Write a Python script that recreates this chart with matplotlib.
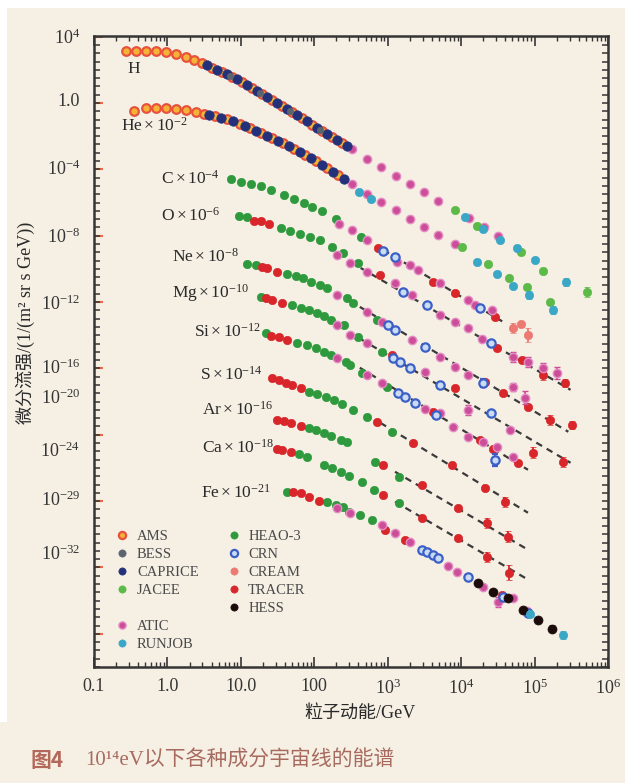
import numpy as np
import matplotlib
matplotlib.use("Agg")
import matplotlib.pyplot as plt
from matplotlib.lines import Line2D
from matplotlib.patches import Rectangle
from matplotlib.ticker import FixedLocator, NullLocator, LogLocator, NullFormatter

plt.rcParams['font.family'] = ['Liberation Serif', 'Noto Sans CJK SC', 'DejaVu Sans']
plt.rcParams['mathtext.fontset'] = 'stix'

# values are log10(E / GeV), log10(flux); a third entry = error bar half-size in decades
H_DATA = {
    'CAPRICE': [(0.54, 2.29), (0.68, 1.99), (0.81, 1.72), (0.95, 1.42), (1.08, 1.08), (1.22, 0.72),
                (1.36, 0.36), (1.49, 0.00), (1.63, -0.36), (1.77, -0.72), (1.90, -1.11), (2.04, -1.51),
                (2.17, -1.87), (2.31, -2.23), (2.45, -2.59)],
    'AMS': [(-0.56, 3.13), (-0.43, 3.13), (-0.29, 3.13), (-0.16, 3.13), (-0.02, 3.07), (0.12, 2.95),
            (0.25, 2.77), (0.36, 2.59), (0.47, 2.41), (0.61, 2.11), (0.74, 1.87), (0.88, 1.57),
            (1.02, 1.27), (1.15, 0.90), (1.29, 0.54), (1.43, 0.18), (1.56, -0.18), (1.70, -0.54),
            (1.83, -0.90), (1.97, -1.33), (2.11, -1.69), (2.24, -2.05), (2.38, -2.41)],
    'BESS': [(0.85, 1.63), (1.26, 0.60), (1.67, -0.48), (2.08, -1.63)],
    'ATIC': [(2.52, -2.77), (2.72, -3.37), (2.91, -3.86), (3.11, -4.40), (3.31, -4.88), (3.50, -5.36),
             (3.69, -5.90), (4.11, -6.93), (4.31, -7.47), (4.50, -8.01)],
    'JACEE': [(3.92, -6.45), (4.22, -7.41), (4.82, -8.98), (5.12, -10.12), (5.72, -11.39, 0.3)],
    'RUNJOB': [(4.05, -6.87), (4.30, -7.59), (4.53, -8.25), (4.76, -8.73), (5.01, -9.46), (5.43, -10.78, 0.25)],
}

HE_DATA = {
    'CAPRICE': [(0.57, -0.72), (0.73, -0.90), (0.89, -1.11), (1.06, -1.39), (1.21, -1.66), (1.36, -1.96),
                (1.51, -2.29), (1.66, -2.59), (1.81, -2.95), (1.96, -3.31), (2.11, -3.73), (2.26, -4.13),
                (2.41, -4.58)],
    'AMS': [(-0.45, -0.48, 0.12), (-0.29, -0.30), (-0.16, -0.30), (-0.02, -0.30), (0.12, -0.36), (0.25, -0.42),
            (0.39, -0.54), (0.50, -0.66), (0.65, -0.78), (0.81, -0.96), (0.99, -1.27), (1.13, -1.51),
            (1.28, -1.81), (1.43, -2.11), (1.58, -2.44), (1.73, -2.77), (1.88, -3.13), (2.03, -3.52),
            (2.17, -3.92), (2.32, -4.34)],
    'ATIC': [(2.52, -4.88), (2.72, -5.48), (2.91, -5.96), (3.11, -6.45), (3.31, -6.99), (3.50, -7.47),
             (3.69, -7.95), (3.92, -8.49)],
    'JACEE': [(4.01, -8.67), (4.37, -9.70), (4.65, -10.54), (4.90, -11.08), (5.21, -11.99)],
    'RUNJOB': [(2.61, -5.36), (2.77, -5.78), (4.22, -9.58), (4.49, -10.30), (4.71, -11.02),
               (4.93, -11.57, 0.25), (5.25, -12.47, 0.25)],
}

C_DATA = {
    'HEAO-3': [(0.87, -4.58), (1.00, -4.76), (1.14, -4.88), (1.28, -5.00), (1.41, -5.24), (1.59, -5.54),
               (1.73, -5.78), (1.86, -6.02), (1.97, -6.27), (2.11, -6.51), (2.30, -6.99), (2.64, -8.07)],
    'TRACER': [(2.87, -8.73), (3.61, -10.78), (3.92, -11.45), (4.46, -12.89)],
    'ATIC': [(2.34, -7.29), (2.52, -7.65), (2.72, -8.25), (3.13, -9.58), (3.31, -9.76), (3.41, -10.06),
             (3.71, -10.84), (4.10, -11.87), (4.19, -12.17), (4.42, -12.47)],
    'CRN': [(2.94, -8.92), (3.10, -9.28), (4.26, -12.35)],
    'CREAM': [(4.71, -13.55, 0.3), (4.82, -13.31), (4.91, -13.98, 0.4)],
}
C_FIT = [(2.94, -8.86), (4.57, -13.19)]

O_DATA = {
    'HEAO-3': [(0.98, -6.81), (1.08, -6.87), (1.55, -7.53), (1.67, -7.71), (1.81, -7.89), (1.94, -8.07),
               (2.08, -8.25), (2.24, -8.67), (2.39, -9.04), (2.60, -9.64)],
    'TRACER': [(1.18, -7.11), (1.28, -7.14), (1.38, -7.29), (2.90, -10.36), (4.49, -14.76), (4.83, -15.48),
               (5.12, -16.39, 0.3), (5.42, -16.87, 0.25)],
    'ATIC': [(2.31, -9.16), (2.49, -9.64), (2.72, -10.18), (3.10, -10.84), (3.33, -11.57), (3.71, -12.77),
             (3.92, -13.19), (4.10, -13.55), (4.29, -14.22), (4.71, -15.30, 0.3), (4.91, -15.60, 0.3),
             (5.12, -15.96, 0.3), (5.31, -16.27, 0.35)],
    'CRN': [(3.21, -11.39), (3.54, -12.17), (4.40, -14.46)],
}
O_FIT = [(2.49, -9.58), (5.49, -17.29)]

NE_DATA = {
    'HEAO-3': [(1.08, -9.70), (1.21, -9.76), (1.63, -10.30), (1.75, -10.42), (1.85, -10.54), (1.96, -10.78),
               (2.08, -10.96), (2.17, -11.14), (2.45, -11.75), (2.53, -12.05), (2.86, -13.07)],
    'TRACER': [(1.29, -9.88), (1.36, -9.94), (1.49, -10.18), (4.33, -16.81), (4.57, -17.47),
               (4.91, -18.31), (5.21, -19.10, 0.3), (5.51, -19.40, 0.25)],
    'ATIC': [(2.31, -11.57), (2.72, -12.59), (2.92, -13.19), (3.33, -14.28), (3.71, -15.30), (3.92, -15.90),
             (4.10, -16.39), (4.71, -17.11, 0.25), (4.87, -17.77, 0.4)],
    'CRN': [(3.01, -13.37), (3.10, -13.67), (3.51, -14.70), (4.30, -16.87, 0.25)],
}
NE_FIT = [(2.62, -12.29), (5.46, -19.82)]

MG_DATA = {
    'HEAO-3': [(1.28, -11.69), (1.70, -12.17), (1.82, -12.35), (1.93, -12.47), (2.04, -12.65), (2.13, -12.83),
               (2.23, -13.07), (2.41, -13.37), (2.60, -14.10), (2.92, -15.00)],
    'TRACER': [(1.34, -11.75), (1.43, -11.87), (1.56, -12.05), (3.06, -15.18), (3.92, -17.17),
               (4.98, -21.08, 0.35), (5.39, -21.63, 0.3)],
    'ATIC': [(2.31, -13.37), (2.49, -13.98), (2.72, -14.46), (3.51, -16.20), (4.10, -18.49, 0.3), (4.67, -19.70)],
    'CRN': [(3.07, -15.36), (3.17, -15.60), (3.31, -15.96), (3.71, -16.99), (4.40, -18.67)],
}
MG_FIT = [(2.49, -13.86), (5.49, -21.69)]

SI_DATA = {
    'HEAO-3': [(1.34, -13.86), (1.77, -14.46), (1.90, -14.58), (2.03, -14.76), (2.13, -15.00), (2.23, -15.18),
               (2.43, -15.60), (2.49, -15.78), (2.65, -16.27), (2.99, -17.11)],
    'TRACER': [(1.41, -14.04), (1.52, -14.10), (1.63, -14.28), (3.61, -18.61), (4.26, -20.30),
               (4.44, -20.84), (4.78, -21.69)],
    'ATIC': [(2.31, -15.36), (2.72, -16.39), (2.92, -16.87), (3.51, -18.43), (3.71, -18.67), (3.89, -19.52),
             (4.10, -20.12), (4.30, -20.42), (4.49, -20.72), (4.71, -21.33)],
    'CRN': [(3.14, -17.47), (3.24, -17.71), (3.37, -18.07), (3.66, -18.80), (4.46, -21.51, 0.35)],
}
SI_FIT = [(2.62, -15.96), (4.91, -22.11)]

S_DATA = {
    'HEAO-3': [(1.93, -17.41), (2.04, -17.53), (2.16, -17.71), (2.27, -17.89), (2.38, -18.13), (2.53, -18.49),
               (2.72, -18.92), (3.06, -19.82)],
    'TRACER': [(1.43, -16.57), (1.52, -16.69), (1.62, -16.87), (1.70, -16.99), (1.82, -17.17), (2.86, -19.22),
               (3.35, -20.48), (3.88, -21.81), (4.33, -23.19), (4.60, -24.04, 0.3)],
}
S_FIT = [(2.90, -19.28), (4.91, -24.70)]

AR_DATA = {
    'HEAO-3': [(1.93, -19.58), (2.03, -19.70), (2.13, -19.88), (2.23, -20.06), (2.36, -20.30), (2.45, -20.42),
               (2.83, -21.63), (3.16, -22.53)],
    'TRACER': [(1.49, -19.10), (1.59, -19.16), (1.68, -19.28), (1.82, -19.46), (2.94, -21.81), (3.47, -23.01),
               (3.96, -24.40), (4.35, -25.30, 0.3), (4.64, -26.14, 0.35)],
}
AR_FIT = [(3.10, -22.23), (4.91, -26.93)]

CA_DATA = {
    'HEAO-3': [(1.79, -21.14), (1.90, -21.33), (2.13, -21.81), (2.24, -21.99), (2.36, -22.23), (2.47, -22.47),
               (2.65, -22.83), (2.81, -23.31), (3.16, -24.10)],
    'TRACER': [(1.49, -20.84), (1.56, -20.90), (1.68, -21.02), (2.94, -23.61), (3.47, -25.00), (3.96, -26.20),
               (4.35, -27.35, 0.3), (4.65, -28.31, 0.45)],
}
CA_FIT = [(3.10, -24.04), (4.91, -28.73)]

FE_DATA = {
    'HEAO-3': [(1.63, -23.43), (2.17, -24.04), (2.30, -24.22), (2.39, -24.34), (2.47, -24.64), (2.62, -24.82),
               (2.79, -25.12)],
    'TRACER': [(1.71, -23.43), (1.82, -23.49), (1.93, -23.73), (2.07, -23.98), (2.96, -25.72), (3.24, -26.33),
               (4.56, -29.64)],
    'ATIC': [(2.31, -24.40), (2.49, -24.70), (2.92, -25.42), (3.10, -25.90), (3.31, -26.45), (3.82, -27.89),
             (3.95, -28.25), (4.30, -29.16), (4.50, -30.06, 0.3), (4.71, -29.82), (4.90, -30.60)],
    'CRN': [(3.47, -26.93), (3.54, -27.05), (3.61, -27.23), (3.69, -27.41), (4.10, -28.55), (4.57, -29.76),
            (4.91, -30.72)],
    'HESS': [(4.23, -28.92), (4.44, -29.46), (4.64, -29.82), (4.84, -30.54), (5.05, -31.14), (5.24, -31.69, 0.2)],
    'RUNJOB': [(4.94, -30.78), (5.39, -32.05, 0.25)],
}

ELEMENTS = [H_DATA, HE_DATA, C_DATA, O_DATA, NE_DATA, MG_DATA, SI_DATA, S_DATA, AR_DATA, CA_DATA, FE_DATA]
FITS = [C_FIT, O_FIT, NE_FIT, MG_FIT, SI_FIT, S_FIT, AR_FIT, CA_FIT]

NAMES = ['H', r'$\mathregular{He\times10^{-2}}$', r'$\mathregular{C\times10^{-4}}$',
         r'$\mathregular{O\times10^{-6}}$', r'$\mathregular{Ne\times10^{-8}}$',
         r'$\mathregular{Mg\times10^{-10}}$', r'$\mathregular{Si\times10^{-12}}$',
         r'$\mathregular{S\times10^{-14}}$', r'$\mathregular{Ar\times10^{-16}}$',
         r'$\mathregular{Ca\times10^{-18}}$', r'$\mathregular{Fe\times10^{-21}}$']
NAME_POS = [(-0.55, 2.05), (-0.63, -1.39), (-0.09, -4.58), (-0.09, -6.81), (0.06, -9.28), (0.06, -11.45),
            (0.36, -13.80), (0.44, -16.39), (0.47, -18.49), (0.47, -20.78), (0.46, -23.49)]

YLAB_POS = [4.0, 0.2, -3.86, -7.95, -11.99, -15.9, -17.71, -20.9, -23.8, -27.11]
YLAB_TXT = [r'$\mathregular{10^{4}}$', '1.0', r'$\mathregular{10^{-4}}$', r'$\mathregular{10^{-8}}$',
            r'$\mathregular{10^{-12}}$', r'$\mathregular{10^{-16}}$', r'$\mathregular{10^{-20}}$',
            r'$\mathregular{10^{-24}}$', r'$\mathregular{10^{-29}}$', r'$\mathregular{10^{-32}}$']
XLAB_TXT = ['0.1', '1.0', '10.0', '100', r'$\mathregular{10^{3}}$', r'$\mathregular{10^{4}}$',
            r'$\mathregular{10^{5}}$', r'$\mathregular{10^{6}}$']

STYLE = {
    'AMS': dict(mfc='#f4b336', mec='#e8523c', mew=1.6, ms=6.2),
    'BESS': dict(mfc='#5b646e', mec='#5b646e', mew=0.5, ms=4.6),
    'CAPRICE': dict(mfc='#24317a', mec='#24317a', mew=0.5, ms=6.8),
    'JACEE': dict(mfc='#5cba48', mec='#5cba48', mew=0.5, ms=6),
    'ATIC': dict(mfc='#cc4d98', mec='#e48cc4', mew=1.0, ms=6),
    'RUNJOB': dict(mfc='#3aa7c7', mec='#3aa7c7', mew=0.5, ms=6),
    'HEAO-3': dict(mfc='#2e9a3d', mec='#2e9a3d', mew=0.5, ms=6),
    'CRN': dict(mfc='#cadcf2', mec='#3b5fc6', mew=1.6, ms=6),
    'CREAM': dict(mfc='#ec7a72', mec='#ec7a72', mew=0.5, ms=6),
    'TRACER': dict(mfc='#d8262a', mec='#d8262a', mew=0.5, ms=6),
    'HESS': dict(mfc='#1c0b0b', mec='#1c0b0b', mew=0.5, ms=6.5),
}
ZORD = {'HEAO-3': 3, 'CAPRICE': 4.5, 'AMS': 4, 'BESS': 5, 'TRACER': 4, 'ATIC': 4, 'JACEE': 4,
        'RUNJOB': 5, 'CRN': 5, 'CREAM': 5, 'HESS': 5}

BG = '#f5efe4'


def draw(ax, data):
    for exp, pts in data.items():
        st = STYLE[exp]
        plain = [p for p in pts if len(p) == 2]
        if plain:
            lx, ly = np.array(plain).T
            ax.plot(10 ** lx, 10 ** ly, ls='none', marker='o', zorder=ZORD[exp], **st)
        ecol = st['mfc'] if exp in ('ATIC', 'HEAO-3', 'TRACER', 'CREAM', 'JACEE', 'RUNJOB', 'HESS') else st['mec']
        for lx, ly, d in [p for p in pts if len(p) == 3]:
            f = 10 ** ly
            ax.errorbar([10 ** lx], [f], yerr=[[f - f / 10 ** d], [f * 10 ** d - f]], fmt='o',
                        ecolor=ecol, elinewidth=1.3, capsize=2.5, capthick=1.2,
                        zorder=ZORD[exp], **st)


fig = plt.figure(figsize=(6.25, 7.83), dpi=100, facecolor=BG)
fig.patches.append(Rectangle((0, 1 - 8 / 783), 1, 8 / 783, transform=fig.transFigure,
                             facecolor='white', edgecolor='none', zorder=0))
fig.patches.append(Rectangle((0, 61 / 783), 7 / 625, (722 - 8) / 783, transform=fig.transFigure,
                             facecolor='white', edgecolor='none', zorder=0))

ax = fig.add_axes([94 / 625, 116 / 783, 514 / 625, 631 / 783], facecolor=BG)
ax.set_xscale('log')
ax.set_yscale('log')
ax.set_xlim(1e-1, 1e6)
ax.set_ylim(1e-34, 10 ** 4.04)

for data in ELEMENTS:
    draw(ax, data)
for fit in FITS:
    lx, ly = np.array(fit).T
    ax.plot(10 ** lx, 10 ** ly, ls=(0, (3, 2.4)), color='#3a3a3a', lw=1.6, zorder=2)

for name, (lx, ly) in zip(NAMES, NAME_POS):
    ax.text(10 ** lx, 10 ** ly, name, fontsize=12.5, ha='left', va='center', color='#2a2a2a')

# frame and ticks
for sp in ax.spines.values():
    sp.set_linewidth(1.8)
    sp.set_color('#353535')

ax.set_xticks(10.0 ** np.arange(-1, 7), XLAB_TXT)
ax.xaxis.set_minor_locator(LogLocator(base=10, subs=np.arange(2, 10)))
ax.xaxis.set_minor_formatter(NullFormatter())
ax.tick_params(axis='x', which='major', direction='in', length=7, width=1.2, top=True,
               labelsize=13, colors='#353535', pad=8)
ax.tick_params(axis='x', which='minor', direction='in', length=3.5, width=1.0, top=True, colors='#353535')

ax.set_yticks(10.0 ** np.array(YLAB_POS), YLAB_TXT)
ax.yaxis.set_minor_locator(FixedLocator(10.0 ** np.arange(-34, 4.01, 0.5)))
ax.yaxis.set_minor_formatter(NullFormatter())
ax.tick_params(axis='y', which='major', length=0, labelsize=13, colors='#353535', pad=10)
ax.tick_params(axis='y', which='minor', direction='in', length=4.5, width=1.1, right=True, colors='#353535')

red = ax.secondary_yaxis('left')
red.set_yticks(10.0 ** np.arange(4, -35, -4))
red.yaxis.set_minor_locator(NullLocator())
red.tick_params(axis='y', which='major', direction='in', length=6.5, width=1.5, color='#e8694a',
                labelleft=False)
red.spines['left'].set_visible(False)

# legend
order = ['AMS', 'BESS', 'CAPRICE', 'JACEE', None, 'ATIC', 'RUNJOB',
         'HEAO-3', 'CRN', 'CREAM', 'TRACER', 'HESS', None, None]
handles, labels = [], []
for exp in order:
    if exp is None:
        handles.append(Line2D([], [], ls='none'))
        labels.append(' ')
    else:
        st = dict(STYLE[exp])
        st['ms'] = 5.2
        handles.append(Line2D([], [], ls='none', marker='o', **st))
        labels.append(exp)
leg = ax.legend(handles, labels, ncol=2, loc='upper left', bbox_to_anchor=(0.041, 0.217),
                frameon=False, fontsize=10.5, handlelength=1.0, handletextpad=0.5,
                columnspacing=1.9, labelspacing=0.33, borderpad=0, borderaxespad=0)
for t in leg.get_texts():
    t.set_color('#4a4a4a')

fig.text(0.04, 0.5875, '微分流强/(1/(m² sr s GeV))', rotation=90, ha='center', va='center',
         fontsize=13, color='#2a2a2a')
fig.text(0.576, 0.089, '粒子动能/GeV', ha='center', va='center', fontsize=13, color='#2a2a2a')

fig.text(30 / 625, 0.029, '图4', ha='left', va='center', fontsize=15, color='#b4685a',
         family=['Noto Sans CJK SC'], weight='bold')
fig.text(85 / 625, 0.029, '10¹⁴eV以下各种成分宇宙线的能谱', ha='left', va='center', fontsize=15,
         color='#a86a5e', family=['Liberation Serif', 'DejaVu Serif', 'Noto Sans CJK SC'])

fig.savefig('out.png', dpi=100, facecolor=BG)
